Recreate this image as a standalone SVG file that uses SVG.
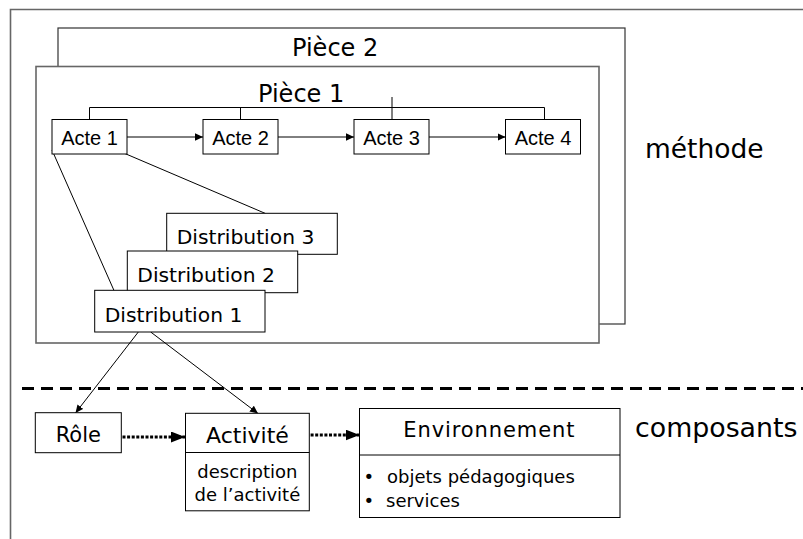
<svg xmlns="http://www.w3.org/2000/svg" width="803" height="539" viewBox="0 0 803 539">
<defs>
<style>
.box{fill:#fff;stroke:#000;stroke-width:1}
.frame{fill:#fff;stroke:#666;stroke-width:1.6}
.frame2{fill:#fff;stroke:#333;stroke-width:1.2}
.ln{fill:none;stroke:#000;stroke-width:1}
.dot{fill:none;stroke:#000;stroke-width:3;stroke-dasharray:3 1.6}
.arial{font-family:"Liberation Sans",Arial,sans-serif;fill:#000}
.dv{font-family:"DejaVu Sans",Verdana,sans-serif;fill:#000}
</style>
<marker id="ah" viewBox="0 0 8 8" refX="8" refY="4" markerWidth="8" markerHeight="8" markerUnits="userSpaceOnUse" orient="auto"><path d="M0,0.3 L8,4 L0,7.7 Z" fill="#000"/></marker>
<marker id="ahb" viewBox="0 0 14 11" refX="14" refY="5.5" markerWidth="14" markerHeight="11" markerUnits="userSpaceOnUse" orient="auto"><path d="M0,0 L14,5.5 L0,11 Z" fill="#000"/></marker>
</defs>
<rect width="803" height="539" fill="#fff"/>
<g id="outer-frame"><path d="M10.5,539 V9.5 H803" fill="none" stroke="#666" stroke-width="1.6"/></g>
<g id="piece2"><rect class="frame2" x="58" y="28" width="567" height="296"/><text class="dv" x="292" y="56" font-size="24">Pièce 2</text></g>
<g id="piece1"><rect class="frame" x="36" y="66.5" width="563" height="276.5"/><text class="dv" x="258" y="101.5" font-size="24">Pièce 1</text></g>
<g id="connectors">
<path class="ln" d="M89.5,119 V107.5 H544.5 V119 M240.5,107.5 V119 M392,97 V119"/>
<line class="ln" x1="127" y1="137" x2="203" y2="137" marker-end="url(#ah)"/>
<line class="ln" x1="278" y1="137" x2="354" y2="137" marker-end="url(#ah)"/>
<line class="ln" x1="429" y1="137" x2="505.5" y2="137" marker-end="url(#ah)"/>
<line class="ln" x1="52" y1="150" x2="114" y2="290.5"/>
<line class="ln" x1="119" y1="151" x2="265.5" y2="213.5"/>
<line class="ln" x1="138.3" y1="332" x2="75.5" y2="413" marker-end="url(#ah)"/>
<line class="ln" x1="150.7" y1="332" x2="258" y2="413.5" marker-end="url(#ah)"/>
<line class="dot" x1="122.5" y1="437" x2="185" y2="437" marker-end="url(#ahb)"/>
<line class="dot" x1="306" y1="435" x2="359.5" y2="435" marker-end="url(#ahb)"/>
<line x1="22" y1="388.5" x2="803" y2="388.5" stroke="#000" stroke-width="3.2" stroke-dasharray="12 7"/>
</g>
<g id="acte1"><rect class="box" x="52" y="119.5" width="75" height="34.5"/><text class="arial" x="89.5" y="145" font-size="20" text-anchor="middle">Acte 1</text></g>
<g id="acte2"><rect class="box" x="203" y="119.5" width="75" height="34.5"/><text class="arial" x="240.5" y="145" font-size="20" text-anchor="middle">Acte 2</text></g>
<g id="acte3"><rect class="box" x="354" y="119.5" width="75" height="34.5"/><text class="arial" x="391.5" y="145" font-size="20" text-anchor="middle">Acte 3</text></g>
<g id="acte4"><rect class="box" x="505.5" y="119.5" width="75" height="34.5"/><text class="arial" x="543" y="145" font-size="20" text-anchor="middle">Acte 4</text></g>
<g id="distribution3"><rect class="box" x="166.7" y="213.3" width="170.6" height="41"/><text class="dv" x="176.7" y="244.3" font-size="20.3">Distribution 3</text></g>
<g id="distribution2"><rect class="box" x="127.3" y="251" width="170.4" height="41.7"/><text class="dv" x="137.3" y="282" font-size="20.3">Distribution 2</text></g>
<g id="distribution1"><rect class="box" x="94.7" y="290.3" width="170.3" height="41.7"/><text class="dv" x="104.7" y="321.7" font-size="20.3">Distribution 1</text></g>
<g id="methode"><text class="dv" x="645" y="158" font-size="26.5">méthode</text></g>
<g id="role"><rect class="box" x="35.3" y="412.7" width="86" height="40"/><text class="dv" x="78.3" y="441.7" font-size="21" text-anchor="middle">Rôle</text></g>
<g id="activite"><rect class="box" x="185.5" y="413.3" width="123.8" height="97.5"/><line class="ln" x1="185.5" y1="452.5" x2="309.3" y2="452.5"/><text class="dv" x="247.5" y="443" font-size="22" text-anchor="middle">Activité</text><text class="dv" x="247.4" y="477.7" font-size="18" text-anchor="middle">description</text><text class="dv" x="247.4" y="500.7" font-size="18" text-anchor="middle">de l’activité</text></g>
<g id="environnement"><rect class="box" x="359.5" y="408.5" width="260.5" height="109"/><line class="ln" x1="359.5" y1="455" x2="620" y2="455"/><text class="dv" x="489.3" y="437.3" font-size="21" letter-spacing="0.9" text-anchor="middle">Environnement</text><text class="dv" y="482.7" font-size="18"><tspan x="363.5">•</tspan><tspan x="387">objets pédagogiques</tspan></text><text class="dv" y="507.3" font-size="18"><tspan x="363.5">•</tspan><tspan x="386">services</tspan></text></g>
<g id="composants"><text class="dv" x="635" y="437" font-size="26.8">composants</text></g>
</svg>
